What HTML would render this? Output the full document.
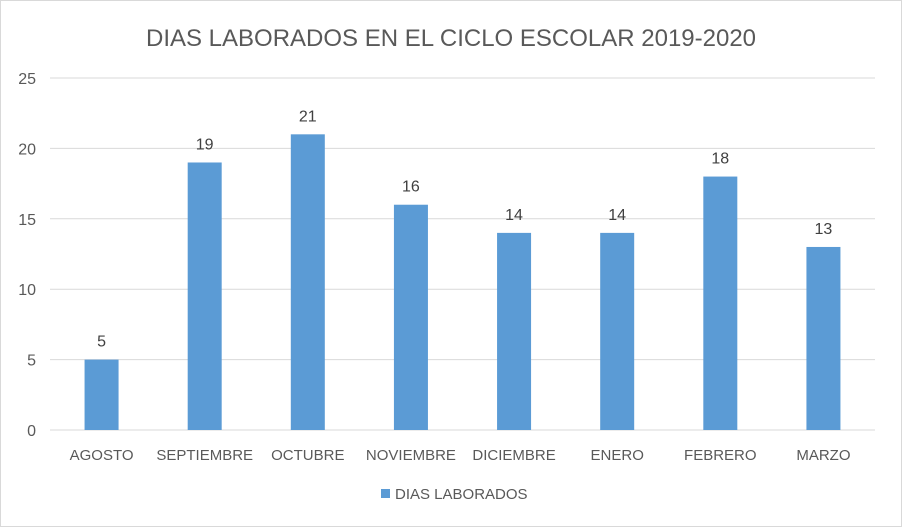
<!DOCTYPE html>
<html><head><meta charset="utf-8"><style>
body{margin:0;background:#fff}
svg{display:block;font-family:"Liberation Sans",sans-serif}
</style></head><body>
<svg width="902" height="527">
<rect x="0.5" y="0.5" width="901" height="526" fill="#fff" stroke="#d9d9d9"/>
<text x="451" y="46" text-anchor="middle" font-size="24" fill="#595959">DIAS LABORADOS EN EL CICLO ESCOLAR 2019-2020</text>
<g id="grid"></g><g id="bars"></g><g id="labels"></g>
<g>
<rect x="381" y="489" width="9" height="9" fill="#5b9bd5"/>
<text x="395" y="499" font-size="15" fill="#595959">DIAS LABORADOS</text>
</g>
</svg>
<script>
const categories=["AGOSTO","SEPTIEMBRE","OCTUBRE","NOVIEMBRE","DICIEMBRE","ENERO","FEBRERO","MARZO"];
const values=[5,19,21,16,14,14,18,13];
const ticks=[0,5,10,15,20,25];
const NS="http://www.w3.org/2000/svg";
const plotLeft=50,plotRight=875,plotTop=78,plotBottom=430,maxV=25;
const yScale=v=>plotBottom-(v/maxV)*(plotBottom-plotTop);
const band=(plotRight-plotLeft)/categories.length;
const xScale=i=>plotLeft+band*(i+0.5);
function mk(t,a,p,txt){const e=document.createElementNS(NS,t);for(const k in a)e.setAttribute(k,a[k]);if(txt!==undefined)e.textContent=txt;p.appendChild(e);return e;}
const gG=document.getElementById('grid'),gB=document.getElementById('bars'),gL=document.getElementById('labels');
ticks.forEach(t=>{
 const ln=mk('line',{x1:plotLeft,x2:plotRight,y1:yScale(t),y2:yScale(t),stroke:'#d9d9d9','stroke-width':1},gG);
 
 
 const tx=mk('text',{x:36,y:yScale(t)+6,'text-anchor':'end','font-size':16,fill:'#595959'},gG,String(t));
 
 
});
categories.forEach((c,i)=>{
 const r=mk('rect',{x:xScale(i)-17,y:yScale(values[i]),width:34,height:plotBottom-yScale(values[i]),fill:'#5b9bd5'},gB);
 
 
 const v=mk('text',{x:xScale(i),y:yScale(values[i])-13,'text-anchor':'middle','font-size':16,fill:'#404040'},gL,String(values[i]));
 
 
 const cl=mk('text',{x:xScale(i),y:460,'text-anchor':'middle','font-size':15,fill:'#595959'},gL,c);
 
 
});
</script>
</body></html>
